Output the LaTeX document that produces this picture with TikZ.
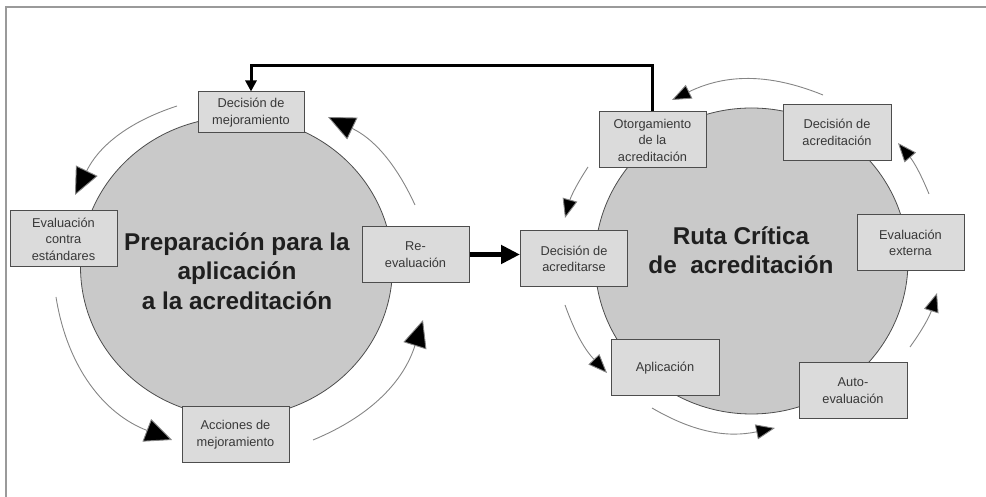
\documentclass[tikz,border=0pt]{standalone}
\usepackage{fontspec}
\setmainfont{Liberation Sans}
\usetikzlibrary{arrows.meta}
\definecolor{circfill}{HTML}{C9C9C9}
\definecolor{boxfill}{HTML}{DBDBDB}
\definecolor{boxline}{HTML}{4D4D4D}
\definecolor{txt}{HTML}{383838}
\definecolor{arcline}{HTML}{858585}
\definecolor{frameline}{HTML}{9A9A9A}
\begin{document}
\begin{tikzpicture}[x=1pt,y=1pt,
  stage/.style={draw=boxline, line width=1pt, fill=boxfill, minimum width=107pt, minimum height=56pt,
    inner sep=2pt, align=center, text=txt, font=\fontsize{12.8}{16.5}\selectfont},
  circ/.style={draw=boxline, line width=0.8pt, fill=circfill},
  bigtext/.style={align=center, text=black!88, font=\fontsize{24.3}{29.5}\selectfont\bfseries},
  arcL/.style={draw=arcline, line width=0.9pt, -{Triangle[length=27pt,width=24pt,fill=black]}},
  arcR/.style={draw=arcline, line width=0.9pt, -{Triangle[length=19pt,width=15pt,fill=black]}},
  thick arrow/.style={line width=5pt, -{Triangle[length=19pt,width=18pt]}},
  feedback/.style={line width=3pt, -{Triangle[length=11pt,width=11pt]}}]
\useasboundingbox (0,0) rectangle (986,497);
% frame
\draw[frameline, line width=1.5pt] (6,0) -- (6,490) -- (986,490);
% circles
\draw[circ] (236.5,230) ellipse [x radius=156, y radius=150];
\draw[circ] (751.5,236) ellipse [x radius=156.5, y radius=153];
% big titles
\node[bigtext] (ttl) at (237,226) {Preparación para la\\aplicación\\a la acreditación};
\node[bigtext] (ttr) at (741,247) {Ruta Crítica\\de\ \ acreditación};
% arc coordinates (left cycle)
\coordinate (l1s) at (177,391); \coordinate (l1e) at (75,302);
\coordinate (l2s) at (56,200);  \coordinate (l2e) at (172,57);
\coordinate (l3s) at (313,57);  \coordinate (l3e) at (423,177);
\coordinate (l4s) at (415,292); \coordinate (l4e) at (328,380);
% arc coordinates (right cycle)
\coordinate (r1s) at (823,402); \coordinate (r1e) at (672,397);
\coordinate (r2s) at (588,330); \coordinate (r2e) at (565,279);
\coordinate (r3s) at (565,192); \coordinate (r3e) at (607,124);
\coordinate (r4s) at (652,89);  \coordinate (r4e) at (775,69);
\coordinate (r5s) at (910,150); \coordinate (r5e) at (937,204);
\coordinate (r6s) at (929,303); \coordinate (r6e) at (898,354);
\draw[arcL] (l1s) to[bend right=23] (l1e);
\draw[arcL] (l2s) to[bend right=30] (l2e);
\draw[arcL] (l3s) to[bend right=25] (l3e);
\draw[arcL] (l4s) to[bend right=20] (l4e);
\draw[arcR] (r1s) to[bend right=24] (r1e);
\draw[arcR] (r2s) to[bend right=9] (r2e);
\draw[arcR] (r3s) to[bend right=12] (r3e);
\draw[arcR] (r4s) to[bend right=21] (r4e);
\draw[arcR] (r5s) to[bend right=9] (r5e);
\draw[arcR] (r6s) to[bend right=9] (r6e);
% left boxes
\node[stage, minimum width=106pt, minimum height=41pt] (dmej) at (251,384.5) {Decisión de\\mejoramiento};
\node[stage] (evalc) at (63.5,258) {Evaluación\\contra\\estándares};
\node[stage] (reeval) at (415.5,242.5) {Re-\\evaluación};
\node[stage] (acc) at (235.5,62.5) {Acciones de\\mejoramiento};
% right boxes
\node[stage] (otorg) at (652.5,357) {Otorgamiento\\de la\\acreditación};
\node[stage, minimum width=108pt] (dacred) at (837,364.5) {Decisión de\\acreditación};
\node[stage] (dacse) at (574,238) {Decisión de\\acreditarse};
\node[stage] (evext) at (910.5,254) {Evaluación\\externa};
\node[stage, minimum width=108pt] (aplic) at (665,129) {Aplicación};
\node[stage, minimum width=108pt] (auto) at (853,106.5) {Auto-\\evaluación};
% connectors
\draw[thick arrow] (reeval.east) -- (reeval.east -| dacse.west);
\coordinate (fbL) at (251,431);
\draw[feedback] (otorg.north) |- (fbL) -- (dmej.north);
\end{tikzpicture}
\end{document}
